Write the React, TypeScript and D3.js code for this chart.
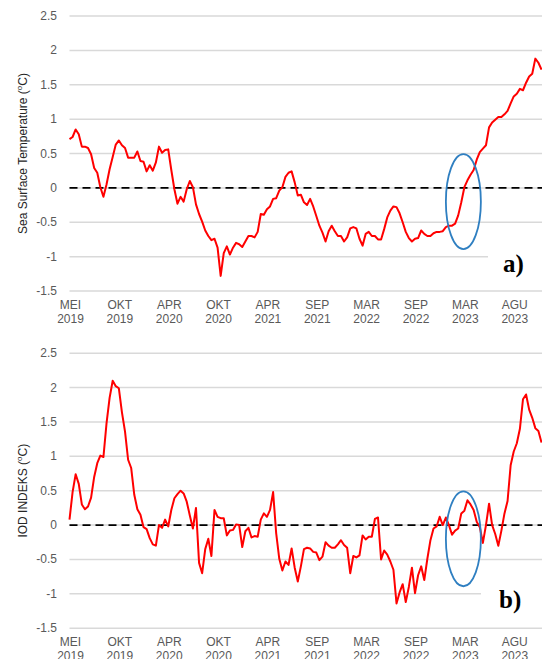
import React from 'react';
import * as d3 from 'd3';

// weekly-ish samples, May 2019 -> late 2023
const sstValues = [
  0.71, 0.74, 0.85, 0.78, 0.60, 0.60, 0.58, 0.49, 0.29, 0.22,
  0.01, -0.13, 0.05, 0.27, 0.45, 0.63, 0.69, 0.62, 0.58, 0.44,
  0.44, 0.44, 0.53, 0.39, 0.38, 0.24, 0.33, 0.25, 0.37, 0.60,
  0.51, 0.55, 0.56, 0.26, -0.02, -0.23, -0.13, -0.20, -0.02, 0.10,
  0.01, -0.24, -0.38, -0.49, -0.62, -0.70, -0.76, -0.74, -0.87, -1.28,
  -0.95, -0.85, -0.97, -0.87, -0.80, -0.82, -0.86, -0.78, -0.70, -0.70,
  -0.72, -0.64, -0.38, -0.39, -0.31, -0.27, -0.16, -0.15, -0.04, 0.01,
  0.16, 0.22, 0.24, 0.08, -0.11, -0.10, -0.21, -0.25, -0.16, -0.27,
  -0.41, -0.55, -0.65, -0.78, -0.63, -0.55, -0.63, -0.70, -0.70, -0.78,
  -0.72, -0.59, -0.57, -0.59, -0.74, -0.84, -0.67, -0.64, -0.70, -0.70,
  -0.75, -0.75, -0.60, -0.43, -0.33, -0.27, -0.28, -0.37, -0.50, -0.64,
  -0.73, -0.78, -0.74, -0.73, -0.62, -0.67, -0.70, -0.70, -0.66, -0.64,
  -0.64, -0.63, -0.57, -0.55, -0.55, -0.52, -0.40, -0.21, 0.01, 0.11,
  0.19, 0.26, 0.41, 0.52, 0.57, 0.62, 0.88, 0.95, 0.99, 1.03,
  1.03, 1.07, 1.12, 1.23, 1.33, 1.37, 1.44, 1.42, 1.53, 1.62,
  1.66, 1.88, 1.82, 1.72,
];

const iodValues = [
  0.08, 0.48, 0.74, 0.60, 0.30, 0.23, 0.27, 0.40, 0.70, 0.90,
  1.01, 0.99, 1.48, 1.85, 2.10, 2.02, 1.99, 1.64, 1.36, 0.95,
  0.83, 0.44, 0.23, 0.15, -0.03, -0.06, -0.19, -0.28, -0.30, 0.00,
  -0.04, 0.08, -0.02, 0.22, 0.39, 0.45, 0.50, 0.46, 0.34, 0.14,
  -0.05, 0.25, -0.55, -0.70, -0.35, -0.20, -0.45, 0.22, 0.12, 0.10,
  0.10, -0.15, -0.08, -0.07, 0.01, 0.00, -0.32, -0.09, -0.04, -0.18,
  -0.16, -0.17, 0.08, 0.17, 0.12, 0.22, 0.48, -0.12, -0.49, -0.66,
  -0.53, -0.58, -0.34, -0.62, -0.82, -0.60, -0.35, -0.33, -0.34, -0.39,
  -0.40, -0.51, -0.46, -0.25, -0.30, -0.33, -0.33, -0.28, -0.22, -0.29,
  -0.33, -0.70, -0.45, -0.47, -0.44, -0.15, -0.21, -0.17, -0.17, 0.09,
  0.11, -0.50, -0.37, -0.43, -0.53, -0.65, -1.14, -0.98, -0.86, -1.12,
  -0.90, -0.62, -0.99, -0.73, -0.60, -0.80, -0.49, -0.22, -0.05, -0.02,
  0.12, 0.00, 0.11, 0.00, -0.14, -0.08, -0.05, 0.17, 0.21, 0.36,
  0.30, 0.22, 0.05, -0.03, -0.26, 0.00, 0.31, 0.00, -0.13, -0.30,
  -0.08, 0.17, 0.35, 0.87, 1.07, 1.19, 1.40, 1.83, 1.90, 1.68,
  1.56, 1.41, 1.37, 1.20,
];

const monthLabels = ['MEI', 'OKT', 'APR', 'OKT', 'APR', 'SEP', 'MAR', 'SEP', 'MAR', 'AGU'];
const yearLabels = ['2019', '2019', '2020', '2020', '2021', '2021', '2022', '2022', '2023', '2023'];
const labelStep = 16; // samples between x labels
const yTicks = [-1.5, -1, -0.5, 0, 0.5, 1, 1.5, 2, 2.5];

// ellipse highlight around MAR 2023
const highlightIndex = 128;
const highlightValue = -0.2;
const highlightHalfSpan = 0.69;

const FONT = '"Liberation Sans", Arial, sans-serif';
const W = 542;
const H = 659;

interface PanelProps {
  values: number[];
  top: number;
  bottom: number;
  title: string;
  letter: string;
  letterX: number;
  letterY: number;
  boxLeft: number;
}

const Panel: React.FC<PanelProps> = ({ values, top, bottom, title, letter, letterX, letterY, boxLeft }) => {
  const left = 69.5;
  const right = 541.5;

  const x = d3.scaleLinear().domain([0, values.length - 1]).range([left, right]);
  const y = d3.scaleLinear().domain([-1.5, 2.5]).range([bottom, top]);

  const line = d3.line<number>()
    .x((_, i) => x(i))
    .y(d => y(d));

  const midY = (top + bottom) / 2;

  return (
    <g>
      {yTicks.map(t => (
        <g key={t}>
          <line
            x1={left}
            x2={W}
            y1={y(t)}
            y2={y(t)}
            stroke="#d9d9d9"
            strokeWidth={1.5}
          />
          <text
            x={57}
            y={y(t)}
            textAnchor="end"
            dominantBaseline="central"
            fontFamily={FONT}
            fontSize={12}
            fill="#595959"
          >
            {String(t)}
          </text>
        </g>
      ))}
      <line
        x1={left}
        x2={W}
        y1={y(0)}
        y2={y(0)}
        stroke="#000"
        strokeWidth={1.8}
        strokeDasharray="8,5"
      />
      {/* white box behind the panel letter */}
      <rect x={boxLeft} y={y(-0.75)} width={W - boxLeft} height={y(-1.4) - y(-0.75)} fill="#fff" />

      <path d={line(values) ?? ''} fill="none" stroke="#ff0000" strokeWidth={2} strokeLinejoin="round" />

      <ellipse
        cx={x(highlightIndex) - 1}
        cy={y(highlightValue)}
        rx={17.5}
        ry={y(highlightValue - highlightHalfSpan) - y(highlightValue)}
        fill="none"
        stroke="#2f7fc1"
        strokeWidth={1.8}
      />

      {monthLabels.map((m, i) => (
        <text
          key={i}
          x={x(i * labelStep) + 1}
          textAnchor="middle"
          fontFamily={FONT}
          fontSize={12}
          fill="#595959"
        >
          <tspan x={x(i * labelStep) + 1} y={bottom + 14} dominantBaseline="central">{m}</tspan>
          <tspan x={x(i * labelStep) + 1} y={bottom + 28} dominantBaseline="central">{yearLabels[i]}</tspan>
        </text>
      ))}

      <text
        transform={`translate(23,${midY}) rotate(-90)`}
        textAnchor="middle"
        dominantBaseline="central"
        fontFamily={FONT}
        fontSize={12}
        fill="#262626"
      >
        {title} (<tspan fontSize={8} dy={-4}>o</tspan><tspan dy={4}>C)</tspan>
      </text>

      <text
        x={letterX}
        y={letterY}
        fontFamily='"Liberation Serif", "Times New Roman", serif'
        fontWeight="bold"
        fontSize={25}
        fill="#000"
      >
        {letter}
      </text>
    </g>
  );
};

export default function App() {
  return (
    <svg
      width={W}
      height={H}
      viewBox={`0 0 ${W} ${H}`}
      style={{ position: 'absolute', left: 0, top: 0, background: '#fff' }}
    >
      <rect width={W} height={H} fill="#fff" />
      <Panel
        values={sstValues}
        top={16}
        bottom={291}
        title="Sea Surface Temperature"
        letter="a)"
        letterX={503}
        letterY={271.5}
        boxLeft={488}
      />
      <Panel
        values={iodValues}
        top={353.2}
        bottom={628.2}
        title="IOD INDEKS"
        letter="b)"
        letterX={499}
        letterY={608}
        boxLeft={481}
      />
    </svg>
  );
}
